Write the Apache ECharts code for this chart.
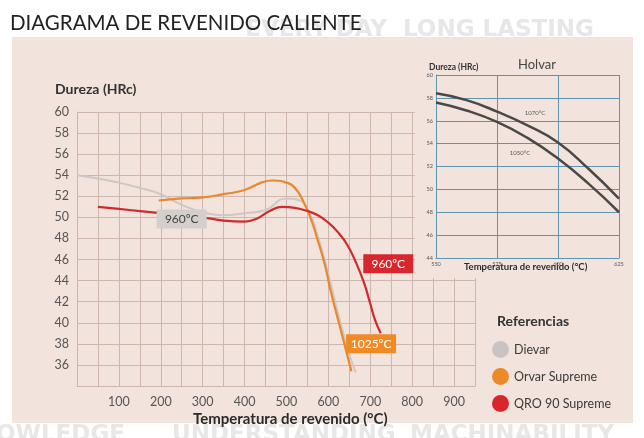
<!DOCTYPE html>
<html>
<head>
<meta charset="utf-8">
<script src="https://cdn.jsdelivr.net/npm/echarts@6/dist/echarts.min.js"></script>
<style>
html, body { margin: 0; padding: 0; background: #fff; }
#chart { width: 644px; height: 438px; }
</style>
</head>
<body>
<div id="chart"></div>
<script>
// grafico principal: dureza vs temperatura de revenido
var dievarTemp = [0, 50, 100, 150, 200, 250, 300, 350, 400, 450, 500, 525, 550, 575, 600, 625, 650, 665];
var dievarHrc = [54.0, 53.7, 53.3, 52.8, 52.2, 51.2, 50.5, 50.2, 50.4, 50.7, 51.8, 51.7, 50.8, 48.2, 44.6, 40.6, 37.0, 35.3];

var orvarTemp = [195, 250, 300, 350, 400, 440, 465, 500, 520, 538, 557, 574, 593, 605, 629, 655];
var orvarHrc = [51.6, 51.8, 51.9, 52.2, 52.6, 53.3, 53.5, 53.3, 52.8, 51.7, 50.0, 47.9, 45.3, 43.1, 39.4, 35.4];

var qroTemp = [50, 100, 150, 200, 250, 300, 350, 400, 430, 460, 490, 520, 550, 575, 600, 625, 645, 665, 685, 700, 712, 725];
var qroHrc = [51.0, 50.8, 50.6, 50.4, 50.2, 50.0, 49.7, 49.6, 49.9, 50.6, 51.0, 50.9, 50.6, 50.2, 49.5, 48.5, 47.4, 45.8, 43.8, 41.8, 40.2, 39.0];

var seriesNames = ['Dievar', 'Orvar Supreme', 'QRO 90 Supreme'];
var tagTexts = ['960ºC', '1025ºC', '960ºC'];

// recuadro Holvar
var holvarTemp = [550, 562.5, 575, 587.5, 600, 612.5, 625];
var holvar1070 = [58.4, 57.8, 56.8, 55.6, 54.1, 51.8, 49.2];
var holvar1050 = [57.6, 56.9, 55.9, 54.5, 52.7, 50.5, 48.0];
var holvarTags = ['1070°C', '1050°C'];

function pairs(xs, ys) {
    var out = [];
    for (var i = 0; i < xs.length; i++) {
        out.push([xs[i], ys[i]]);
    }
    return out;
}

var FONT = 'Lato, "DejaVu Sans", sans-serif';
var WM_FONT = '"DejaVu Sans", sans-serif';
var gridColor = '#cdb7b0';
var insetColor = '#5b95b0';

function tagPoint(coord, text, bg, fg) {
    return {
        symbol: 'rect',
        symbolSize: [50, 19],
        silent: true,
        itemStyle: {color: bg},
        label: {show: true, formatter: text, color: fg, fontSize: 12, fontFamily: FONT},
        data: [{coord: coord}]
    };
}

function watermark(text, x, y, align) {
    return {type: 'text', x: x, y: y, z: -20, silent: true,
        style: {text: text, fill: '#e7e7e7', font: 'bold 23px ' + WM_FONT, textAlign: align || 'left'}};
}

var chart = echarts.init(document.getElementById('chart'));

var option = {
    animation: false,
    backgroundColor: '#fff',
    textStyle: {fontFamily: FONT},
    graphic: [
        watermark('LONG LASTING', 403, 19),
        watermark('EVERY DAY', 387, 19, 'right'),
        watermark('OWLEDGE', -4, 424),
        watermark('UNDERSTANDING', 172, 424),
        watermark('MACHINABILITY', 410, 424),
        {type: 'rect', z: -10, silent: true, shape: {x: 12, y: 37, width: 621, height: 386},
            style: {fill: '#f3e3dd'}},
        {type: 'text', left: 10, top: 13, silent: true,
            style: {text: 'DIAGRAMA DE REVENIDO CALIENTE', fill: '#222', font: '20.5px ' + FONT}},
        {type: 'text', left: 55, top: 82, silent: true,
            style: {text: 'Dureza (HRc)', fill: '#333', font: 'bold 14px ' + FONT}},
        {type: 'text', left: 193, top: 412, silent: true,
            style: {text: 'Temperatura de revenido (°C)', fill: '#2b2b2b', font: 'bold 15px ' + FONT}},
        {type: 'text', left: 497, top: 314, silent: true,
            style: {text: 'Referencias', fill: '#333', font: 'bold 14px ' + FONT}},
        // fondo del recuadro Holvar
        {type: 'rect', z: 1, silent: true, shape: {x: 415, y: 50, width: 218, height: 228},
            style: {fill: '#f3e3dd'}},
        {type: 'text', left: 429, top: 63, z: 5, silent: true,
            style: {text: 'Dureza (HRc)', fill: '#333', font: 'bold 8.5px ' + FONT}},
        {type: 'text', left: 518, top: 58, z: 5, silent: true,
            style: {text: 'Holvar', fill: '#444', font: '13px ' + FONT}},
        {type: 'text', left: 464, top: 262, z: 5, silent: true,
            style: {text: 'Temperatura de revenido (°C)', fill: '#2b2b2b', font: 'bold 9.5px ' + FONT}}
    ],
    legend: {
        data: seriesNames,
        orient: 'vertical',
        left: 487,
        top: 336,
        icon: 'circle',
        itemWidth: 17,
        itemHeight: 17,
        itemGap: 10,
        textStyle: {color: '#3a3a3a', fontSize: 12.5, fontFamily: FONT}
    },
    grid: [
        {left: 77, top: 112, width: 398, height: 274},
        {left: 436, top: 75, width: 183, height: 183, z: 2}
    ],
    xAxis: [
        {
            type: 'value', gridIndex: 0, min: 0, max: 950, interval: 50,
            axisLine: {lineStyle: {color: gridColor}},
            axisTick: {show: false},
            splitLine: {lineStyle: {color: gridColor}},
            axisLabel: {
                color: '#555', fontSize: 12.5, margin: 9,
                formatter: function (v) { return (v % 100 === 0 && v > 0 && v < 950) ? v : ''; }
            }
        },
        {
            type: 'value', gridIndex: 1, min: 550, max: 625, interval: 25, z: 2,
            axisLine: {lineStyle: {color: insetColor}},
            axisTick: {show: false},
            splitLine: {lineStyle: {color: insetColor}},
            axisLabel: {color: '#555', fontSize: 5.5, margin: 3}
        }
    ],
    yAxis: [
        {
            type: 'value', gridIndex: 0, min: 34, max: 60, interval: 2,
            axisLine: {show: true, lineStyle: {color: gridColor}},
            axisTick: {show: false},
            splitLine: {lineStyle: {color: gridColor}},
            axisLabel: {
                color: '#555', fontSize: 12.5, margin: 8,
                formatter: function (v) { return v === 34 ? '' : v; }
            }
        },
        {
            type: 'value', gridIndex: 1, min: 44, max: 60, interval: 2, z: 2,
            axisLine: {show: true, lineStyle: {color: insetColor}},
            axisTick: {show: false},
            splitLine: {lineStyle: {color: insetColor}},
            axisLabel: {color: '#555', fontSize: 5.5, margin: 3}
        }
    ],
    series: [
        {
            name: seriesNames[0], type: 'line', smooth: true, showSymbol: false,
            xAxisIndex: 0, yAxisIndex: 0,
            data: pairs(dievarTemp, dievarHrc),
            itemStyle: {color: '#c9c4c3'},
            lineStyle: {color: '#cdc7c5', width: 2},
            markPoint: tagPoint([250, 49.85], tagTexts[0], '#d3cfcd', '#444')
        },
        {
            name: seriesNames[1], type: 'line', smooth: true, showSymbol: false,
            xAxisIndex: 0, yAxisIndex: 0,
            data: pairs(orvarTemp, orvarHrc),
            itemStyle: {color: '#ec8a2a'},
            lineStyle: {color: '#e8892e', width: 2.2},
            markPoint: tagPoint([702, 38.0], tagTexts[1], '#ef8a26', '#fff')
        },
        {
            name: seriesNames[2], type: 'line', smooth: true, showSymbol: false,
            xAxisIndex: 0, yAxisIndex: 0,
            data: pairs(qroTemp, qroHrc),
            itemStyle: {color: '#d7262e'},
            lineStyle: {color: '#cf2a2c', width: 2.2},
            markPoint: tagPoint([743, 45.6], tagTexts[2], '#d8262e', '#fff')
        },
        {
            name: 'Holvar 1070', type: 'line', smooth: true, showSymbol: false, z: 4,
            xAxisIndex: 1, yAxisIndex: 1,
            data: pairs(holvarTemp, holvar1070),
            lineStyle: {color: '#4b4848', width: 2.5},
            markPoint: {
                symbol: 'circle', symbolSize: 0, silent: true,
                label: {show: true, formatter: holvarTags[0], color: '#555', fontSize: 6},
                data: [{coord: [590.6, 56.7]}]
            }
        },
        {
            name: 'Holvar 1050', type: 'line', smooth: true, showSymbol: false, z: 4,
            xAxisIndex: 1, yAxisIndex: 1,
            data: pairs(holvarTemp, holvar1050),
            lineStyle: {color: '#4b4848', width: 2.5},
            markPoint: {
                symbol: 'circle', symbolSize: 0, silent: true,
                label: {show: true, formatter: holvarTags[1], color: '#555', fontSize: 6},
                data: [{coord: [584.4, 53.2]}]
            }
        }
    ]
};
chart.setOption(option);
</script>
</body>
</html>
